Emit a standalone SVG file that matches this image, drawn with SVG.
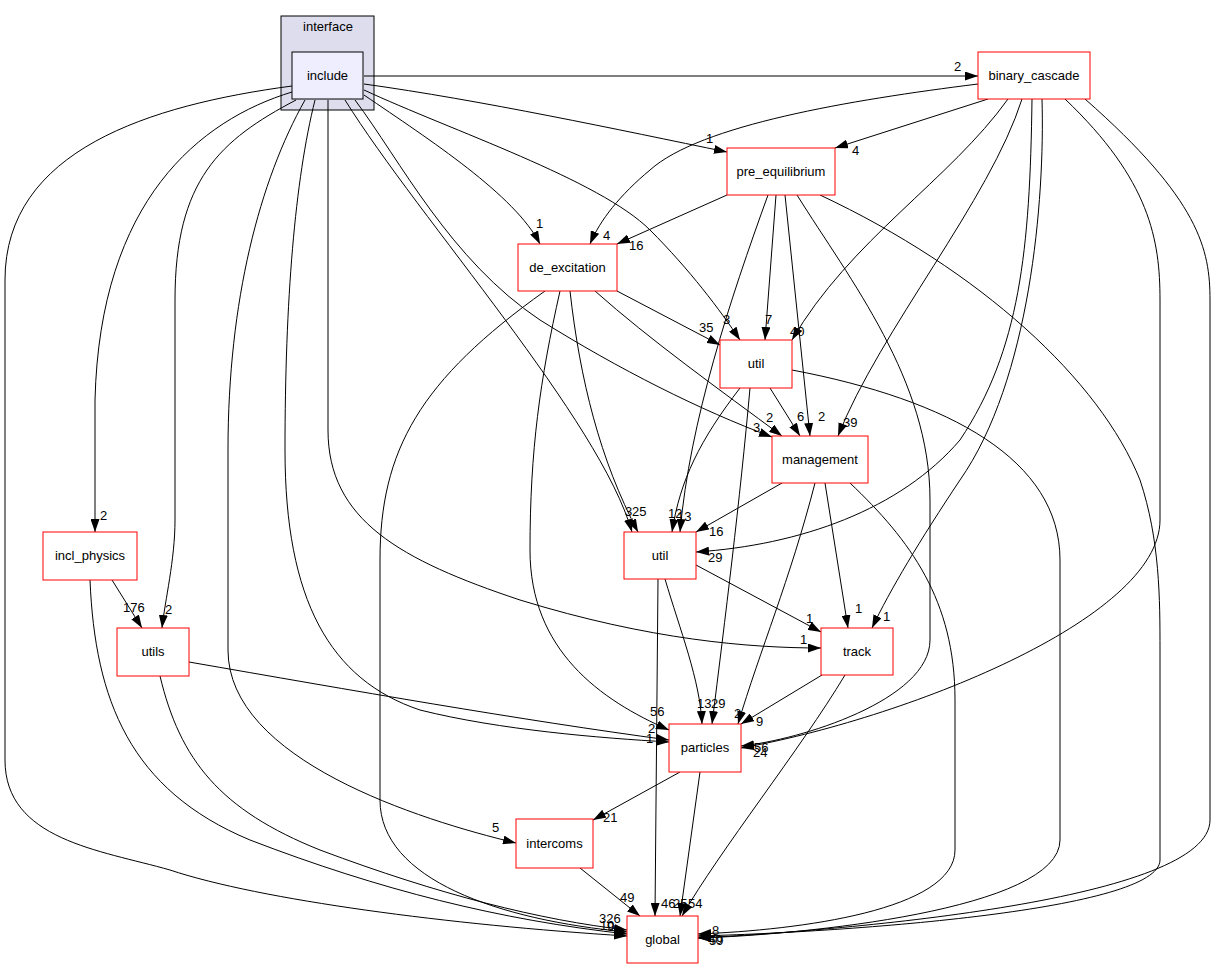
<svg xmlns="http://www.w3.org/2000/svg" width="1217" height="969" viewBox="0 0 1217 969">
<defs>
<marker id="ah" viewBox="0 0 13 9" refX="13" refY="4.5" markerWidth="13" markerHeight="9" markerUnits="userSpaceOnUse" orient="auto">
<path d="M0,0 L13,4.5 L0,9 z" fill="#000"/>
</marker>
<style>
.e{fill:none;stroke:#000;stroke-width:1;marker-end:url(#ah)}
.n{fill:#fff;stroke:#ff0000;stroke-width:1}
.t{font-family:"Liberation Sans",Arial,sans-serif;font-size:13px;fill:#000;text-anchor:middle}
.l{font-family:"Liberation Sans",Arial,sans-serif;font-size:13px;fill:#000}
</style>
</defs>
<rect width="1217" height="969" fill="#fff"/>
<g id="cluster_interface">
<rect x="281" y="16" width="93" height="94" fill="#ddddee" stroke="#000"/>
<text class="t" x="328" y="31">interface</text>
</g>
<g id="connectors">
<path class="e" d="M364,76 L978,76"/>
<path class="e" d="M364,84 C480,100 620,130 727,152"/>
<path class="e" d="M364,95 C430,140 515,195 540,244"/>
<path class="e" d="M364,90 C450,130 600,180 650,230 C690,270 720,310 740,340"/>
<path class="e" d="M355,100 C400,160 450,260 540,320 C620,370 700,410 772,437"/>
<path class="e" d="M345,100 C420,220 600,420 632,532"/>
<path class="e" d="M328,100 L328,430 C328,520 400,560 520,600 C650,640 750,648 821,648"/>
<path class="e" d="M315,100 C295,180 285,300 285,450 C285,600 330,680 420,710 C500,730 600,738 669,742"/>
<path class="e" d="M305,100 C260,180 228,300 228,450 L228,650 C228,760 420,820 516,843"/>
<path class="e" d="M296,100 C220,140 175,180 175,300 L175,520 C175,560 165,600 162,628"/>
<path class="e" d="M292,92 C200,120 100,200 95,400 L95,532"/>
<path class="e" d="M292,86 C150,105 5,150 5,280 L5,760 C5,840 100,850 170,870 C260,900 450,925 627,936"/>
<path class="e" d="M978,84 C850,100 700,125 650,170 C620,195 600,220 590,244"/>
<path class="e" d="M988,99 L835,148"/>
<path class="e" d="M1008,99 C950,180 850,240 792,340"/>
<path class="e" d="M1022,99 C990,200 880,330 838,436"/>
<path class="e" d="M1032,99 C1030,250 1020,350 960,440 C900,510 800,545 696,552"/>
<path class="e" d="M1042,99 C1045,200 1030,380 960,480 C920,540 890,590 872,628"/>
<path class="e" d="M1065,99 C1150,180 1160,240 1160,300 L1160,520 C1160,620 900,720 741,748"/>
<path class="e" d="M1085,99 C1200,200 1210,250 1210,300 L1210,820 C1210,900 850,930 698,938"/>
<path class="e" d="M727,195 L617,244"/>
<path class="e" d="M768,195 C730,300 690,420 680,532"/>
<path class="e" d="M776,195 L765,340"/>
<path class="e" d="M785,195 L810,436"/>
<path class="e" d="M797,195 C850,280 930,380 930,500 L930,640 C930,700 800,740 741,746"/>
<path class="e" d="M820,195 C980,270 1100,380 1140,480 C1160,540 1160,600 1160,650 L1160,860 C1160,910 850,932 698,936"/>
<path class="e" d="M617,291 L720,345"/>
<path class="e" d="M595,291 C650,340 720,390 782,436"/>
<path class="e" d="M570,291 C580,380 600,460 638,532"/>
<path class="e" d="M560,291 C540,380 530,450 530,550 C530,650 600,700 669,730"/>
<path class="e" d="M545,291 C420,380 380,450 380,560 L380,800 C380,880 500,920 627,932"/>
<path class="e" d="M770,388 L800,436"/>
<path class="e" d="M740,388 C700,440 680,480 672,532"/>
<path class="e" d="M750,388 C740,500 725,620 712,724"/>
<path class="e" d="M792,370 C950,400 1060,460 1060,560 L1060,840 C1060,910 800,935 698,938"/>
<path class="e" d="M782,483 L696,532"/>
<path class="e" d="M825,483 L848,628"/>
<path class="e" d="M815,483 C790,580 760,650 738,724"/>
<path class="e" d="M850,483 C910,540 955,600 955,700 L955,850 C955,910 800,930 698,934"/>
<path class="e" d="M696,565 L821,632"/>
<path class="e" d="M665,579 C680,630 700,680 702,724"/>
<path class="e" d="M658,579 L655,916"/>
<path class="e" d="M822,675 L741,724"/>
<path class="e" d="M845,675 C800,750 720,850 682,916"/>
<path class="e" d="M680,772 L593,820"/>
<path class="e" d="M700,772 L680,916"/>
<path class="e" d="M580,868 L640,916"/>
<path class="e" d="M112,580 L142,628"/>
<path class="e" d="M90,580 C95,700 130,790 250,840 C380,890 500,920 627,934"/>
<path class="e" d="M189,662 C350,690 520,720 669,740"/>
<path class="e" d="M160,676 C180,760 220,810 320,850 C440,895 540,920 627,930"/>
<g class="labels">
<text class="l" x="954" y="71">2</text>
<text class="l" x="706" y="143">1</text>
<text class="l" x="852" y="155">4</text>
<text class="l" x="536" y="228">1</text>
<text class="l" x="603" y="240">4</text>
<text class="l" x="629" y="250">16</text>
<text class="l" x="723" y="324">3</text>
<text class="l" x="765" y="324">7</text>
<text class="l" x="790" y="336">40</text>
<text class="l" x="699" y="332">35</text>
<text class="l" x="766" y="422">2</text>
<text class="l" x="753" y="432">3</text>
<text class="l" x="797" y="421">6</text>
<text class="l" x="818" y="421">2</text>
<text class="l" x="843" y="427">39</text>
<text class="l" x="625" y="516">3</text>
<text class="l" x="632" y="516">25</text>
<text class="l" x="668" y="518">12</text>
<text class="l" x="677" y="521">13</text>
<text class="l" x="709" y="536">16</text>
<text class="l" x="708" y="562">29</text>
<text class="l" x="806" y="623">1</text>
<text class="l" x="800" y="644">1</text>
<text class="l" x="855" y="613">1</text>
<text class="l" x="883" y="621">1</text>
<text class="l" x="650" y="716">56</text>
<text class="l" x="648" y="733">2</text>
<text class="l" x="646" y="743">1</text>
<text class="l" x="697" y="708">13</text>
<text class="l" x="711" y="708">29</text>
<text class="l" x="734" y="718">2</text>
<text class="l" x="756" y="726">9</text>
<text class="l" x="754" y="752">56</text>
<text class="l" x="753" y="757">24</text>
<text class="l" x="492" y="832">5</text>
<text class="l" x="603" y="822">21</text>
<text class="l" x="620" y="902">49</text>
<text class="l" x="661" y="908">46</text>
<text class="l" x="673" y="908">25</text>
<text class="l" x="688" y="908">54</text>
<text class="l" x="599" y="923">326</text>
<text class="l" x="600" y="930">10</text>
<text class="l" x="607" y="931">9</text>
<text class="l" x="712" y="935">8</text>
<text class="l" x="708" y="944">40</text>
<text class="l" x="709" y="945">59</text>
<text class="l" x="100" y="520">2</text>
<text class="l" x="123" y="612">176</text>
<text class="l" x="165" y="614">2</text>
</g>
</g>
<g id="node_include"><rect x="292" y="52" width="71" height="47" fill="#eeeeff" stroke="#000"/><text class="t" x="327.5" y="80">include</text></g>
<g id="node_binary_cascade"><rect class="n" x="978" y="52" width="112" height="47"/><text class="t" x="1034" y="80">binary_cascade</text></g>
<g id="node_pre_equilibrium"><rect class="n" x="727" y="148" width="108" height="47"/><text class="t" x="781" y="176">pre_equilibrium</text></g>
<g id="node_de_excitation"><rect class="n" x="518" y="244" width="99" height="47"/><text class="t" x="567.5" y="272">de_excitation</text></g>
<g id="node_util_upper"><rect class="n" x="720" y="340" width="72" height="48"/><text class="t" x="756" y="368">util</text></g>
<g id="node_management"><rect class="n" x="772" y="436" width="96" height="47"/><text class="t" x="820" y="464">management</text></g>
<g id="node_util_lower"><rect class="n" x="624" y="532" width="72" height="47"/><text class="t" x="660" y="560">util</text></g>
<g id="node_track"><rect class="n" x="821" y="628" width="72" height="47"/><text class="t" x="857" y="656">track</text></g>
<g id="node_particles"><rect class="n" x="669" y="724" width="72" height="48"/><text class="t" x="705" y="752">particles</text></g>
<g id="node_intercoms"><rect class="n" x="516" y="819" width="77" height="49"/><text class="t" x="554.5" y="848">intercoms</text></g>
<g id="node_global"><rect class="n" x="627" y="916" width="71" height="47"/><text class="t" x="662.5" y="944">global</text></g>
<g id="node_incl_physics"><rect class="n" x="43" y="532" width="94" height="48"/><text class="t" x="90" y="560">incl_physics</text></g>
<g id="node_utils"><rect class="n" x="117" y="628" width="72" height="48"/><text class="t" x="153" y="656">utils</text></g>
</svg>
